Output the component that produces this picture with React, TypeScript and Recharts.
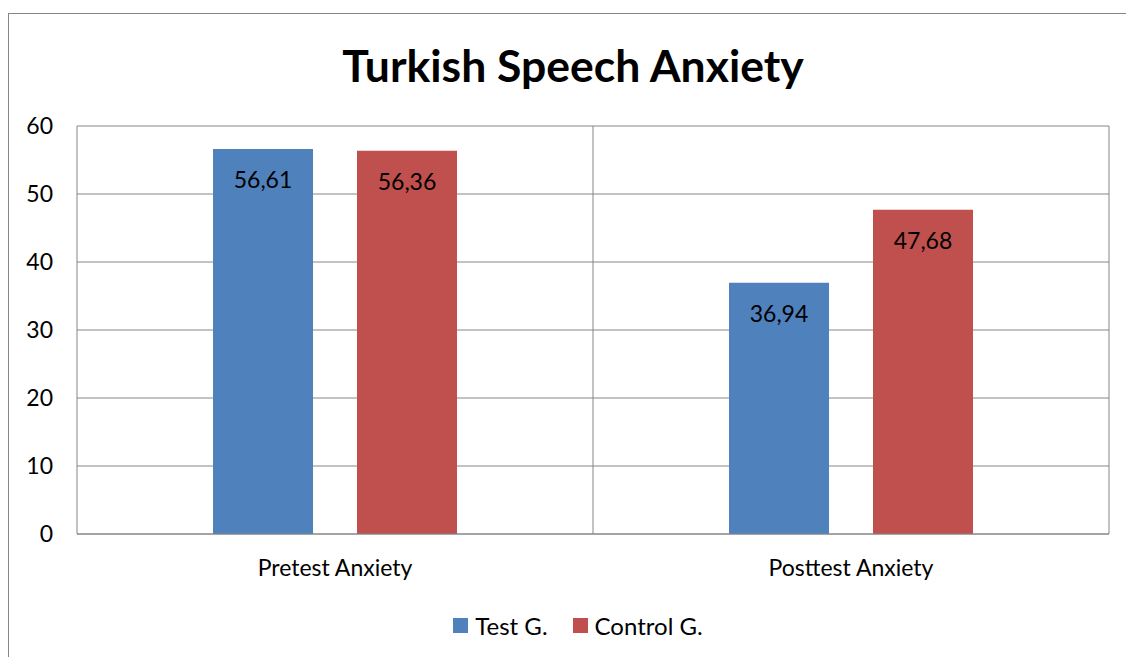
import React from 'react';
import { BarChart, Bar, XAxis, YAxis, CartesianGrid, Legend, LabelList } from 'recharts';

const categories = ['Pretest Anxiety', 'Posttest Anxiety'];
const seriesNames = ['Test G.', 'Control G.'];
const testG = [56.61, 36.94];
const controlG = [56.36, 47.68];
const yTicks = [0, 10, 20, 30, 40, 50, 60];
const boundaryTicks = [0, 1, 2];

const FONT = 'Lato, "Open Sans", sans-serif';
const GRID = '#868686';
const BLUE = '#4F81BD';
const RED = '#C0504D';

const data = categories.map((name, i) => ({
  name,
  pos: i + 0.5,
  test: testG[i],
  control: controlG[i],
}));

const fmt = (v: any) => String(v).replace('.', ',');

function LegendContent(props: any) {
  const items = [...(props.payload || [])].sort(
    (a: any, b: any) => seriesNames.indexOf(a.value) - seriesNames.indexOf(b.value)
  );
  return (
    <div
      style={{
        display: 'flex',
        justifyContent: 'center',
        alignItems: 'center',
        height: 40,
        paddingLeft: 38,
        fontFamily: FONT,
        fontSize: 24,
        color: '#000',
      }}
    >
      {items.map((it: any, i: number) => (
        <span key={i} style={{ display: 'flex', alignItems: 'center', marginRight: i < items.length - 1 ? 25 : 0 }}>
          <span style={{ width: 15, height: 15, background: it.color, marginRight: 7, display: 'inline-block' }} />
          {it.value}
        </span>
      ))}
    </div>
  );
}

export default function App() {
  return (
    <div style={{ position: 'fixed', left: 0, top: 0, width: 1126, height: 657, overflow: 'hidden', background: '#fff' }}>
      <div
        style={{
          position: 'absolute',
          left: 8,
          top: 13,
          width: 1140,
          height: 660,
          border: `1px solid ${GRID}`,
          boxSizing: 'border-box',
        }}
      >
        <div
          style={{
            position: 'absolute',
            left: 0,
            top: 0,
            width: 1128,
            height: 102,
            lineHeight: '102px',
            textAlign: 'center',
            fontFamily: FONT,
            fontWeight: 700,
            fontSize: 44.5,
            color: '#000',
          }}
        >
          Turkish Speech Anxiety
        </div>
        <BarChart
          width={1128}
          height={631}
          data={data}
          margin={{ top: 112, right: 28, left: 0, bottom: 0 }}
          barCategoryGap={136}
          barGap={44}
          style={{ position: 'absolute', left: 0, top: 0 }}
        >
          <XAxis xAxisId="grid" type="number" dataKey="pos" domain={[0, 2]} ticks={boundaryTicks} hide />
          <CartesianGrid xAxisId="grid" stroke={GRID} strokeWidth={1} />
          <XAxis
            xAxisId="cat"
            dataKey="name"
            height={71}
            tickSize={0}
            tickMargin={26}
            axisLine={{ stroke: GRID }}
            tick={{ fill: '#000', fontFamily: FONT, fontSize: 23 }}
          />
          <YAxis
            domain={[0, 60]}
            ticks={yTicks}
            width={68}
            tickSize={0}
            tickMargin={24}
            axisLine={false}
            tick={{ fill: '#000', fontFamily: FONT, fontSize: 23 }}
          />
          <Legend verticalAlign="bottom" content={<LegendContent />} />
          <Bar xAxisId="cat" dataKey="test" name="Test G." fill={BLUE} isAnimationActive={false}>
            <LabelList dataKey="test" position="insideTop" offset={23} formatter={fmt} fill="#000" fontFamily={FONT} fontSize={23} />
          </Bar>
          <Bar xAxisId="cat" dataKey="control" name="Control G." fill={RED} isAnimationActive={false}>
            <LabelList dataKey="control" position="insideTop" offset={23} formatter={fmt} fill="#000" fontFamily={FONT} fontSize={23} />
          </Bar>
        </BarChart>
      </div>
    </div>
  );
}
